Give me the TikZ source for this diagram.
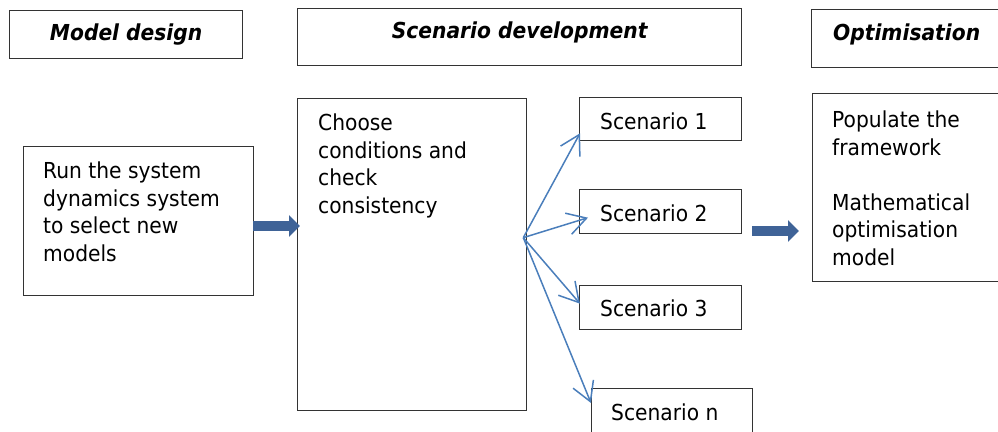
\documentclass[tikz,border=0pt]{standalone}
\usepackage{fontspec}
\setmainfont{DejaVu Sans}[FakeStretch=0.92]
\usepackage{xcolor}
\usepackage{tikz}
\usetikzlibrary{arrows.meta}
\definecolor{arrowblue}{HTML}{3F6397}
\definecolor{linkblue}{HTML}{4A7EBB}
\definecolor{boxgrey}{HTML}{333333}

\begin{document}
\begin{tikzpicture}[x=1pt, y=-1pt,
    box/.style={draw=boxgrey, line width=1.3pt, rectangle, anchor=north west, inner sep=0pt},
    head/.style={font=\fontsize{22}{27.5}\selectfont\bfseries\itshape},
    txt/.style={anchor=base west, align=left, inner sep=0pt, font=\fontsize{22}{27.5}\selectfont},
    bigarrow/.style={draw=arrowblue, line width=9.5pt, -{Triangle[length=11pt,width=21pt]}},
    fanarrow/.style={draw=linkblue, line width=1.5pt, -{Straight Barb[length=19pt,width=22pt]}}]
    \useasboundingbox (0,0) rectangle (998,431);
    \clip (0,0) rectangle (998,431);

    % Stage headings
    \node[box, head, minimum width=233, minimum height=48] (design) at (9,10) {Model design};
    \node[box, head, text depth=14pt, minimum width=444, minimum height=57] (scendev) at (297,8) {Scenario development};
    \node[box, head, text depth=14pt, minimum width=190, minimum height=58] (optim) at (811,9) {Optimisation};

    % Main boxes
    \node[box, minimum width=230, minimum height=149] (run) at (23,146) {};
    \node[box, minimum width=229, minimum height=312] (choose) at (297,98) {};
    \node[box, minimum width=190, minimum height=188] (pop) at (812,93) {};

    % Scenario boxes
    \node[box, minimum width=162, minimum height=43] (s1) at (579,97) {};
    \node[box, minimum width=162, minimum height=44] (s2) at (579,189) {};
    \node[box, minimum width=162, minimum height=44] (s3) at (579,285) {};
    \node[box, minimum width=161, minimum height=60] (sn) at (591,388) {};

    % Box texts (base = last line)
    \node[txt] (runtext) at (43,261) {Run the system\\dynamics system\\to select new\\models};
    \node[txt] (choosetext) at (318,213) {Choose\\conditions and\\check\\consistency};
    \node[txt] (poptext) at (832,265) {Populate the\\framework\\[27.5pt]Mathematical\\optimisation\\model};
    \node[txt] (s1text) at ([xshift=21pt,yshift=-32pt]s1.north west) {Scenario 1};
    \node[txt] (s2text) at ([xshift=21pt,yshift=-32pt]s2.north west) {Scenario 2};
    \node[txt] (s3text) at ([xshift=21pt,yshift=-31pt]s3.north west) {Scenario 3};
    \node[txt] (sntext) at ([xshift=20pt,yshift=-32pt]sn.north west) {Scenario n};

    % Block arrows between stages
    \draw[bigarrow, shorten <=-1pt, shorten >=-3pt] (run.east |- 0,226) -- (choose.west |- 0,226);
    \draw[bigarrow, shorten <=10pt, shorten >=13pt] (s2.east |- 0,231) -- (pop.west |- 0,231);

    % Fan out to the scenarios
    \coordinate (fan) at ([xshift=-4pt,yshift=17pt]choose.east);
    \draw[fanarrow] (fan) -- ([xshift=1pt,yshift=8pt]s1.south west);
    \draw[fanarrow] (fan) -- ([xshift=9pt,yshift=-6pt]s2.west);
    \draw[fanarrow] (fan) -- ([xshift=1pt,yshift=4pt]s3.west);
    \draw[fanarrow] (fan) -- ([yshift=-15pt]sn.north west);
\end{tikzpicture}
\end{document}
